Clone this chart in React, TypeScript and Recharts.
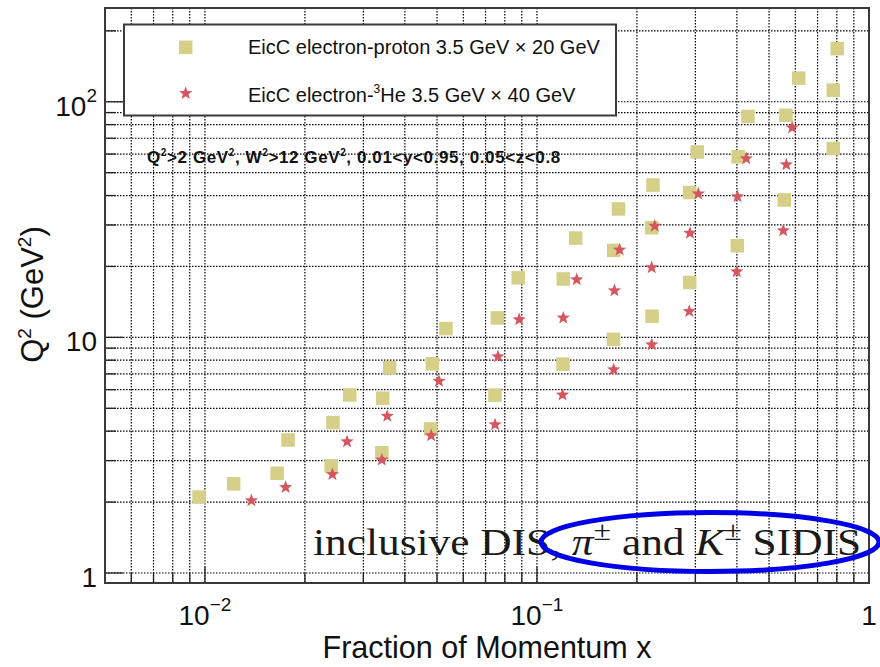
import React from "react";
import { ScatterChart, Scatter, XAxis, YAxis, CartesianGrid } from "recharts";

// x (momentum fraction) and Q^2 (GeV^2) for each kinematic bin
const EP_X = [
  0.0096, 0.0122, 0.0165, 0.0178, 0.024, 0.0243, 0.0273, 0.0341, 0.0343, 0.036,
  0.0478, 0.0484, 0.0532, 0.0747, 0.076, 0.0878, 0.1198, 0.12, 0.1308, 0.17,
  0.1703, 0.176, 0.2221, 0.2216, 0.2236, 0.2884, 0.2884, 0.304, 0.4012, 0.4036,
  0.432, 0.5557, 0.5623, 0.6141, 0.7805, 0.7805, 0.8025,
];
const EP_Q2 = [
  2.1, 2.39, 2.65, 3.67, 2.85, 4.35, 5.7, 3.24, 5.52, 7.44,
  4.09, 7.72, 10.9, 5.69, 12.1, 17.9, 7.7, 17.7, 26.4, 9.81,
  23.4, 35.1, 12.3, 29.2, 44.3, 17.1, 41.2, 61.2, 24.5, 58.4,
  86.6, 38.3, 87.6, 126, 63.3, 112, 168,
];
const HE_X = [
  0.0138, 0.0175, 0.0242, 0.0268, 0.0341, 0.0354, 0.048, 0.0507, 0.0748, 0.0763,
  0.0884, 0.1194, 0.12, 0.1317, 0.1702, 0.1711, 0.1774, 0.2216, 0.2216, 0.2263,
  0.2876, 0.289, 0.3061, 0.3996, 0.4018, 0.4269, 0.5519, 0.5636, 0.587,
];
const HE_Q2 = [
  2.03, 2.31, 2.62, 3.61, 3.02, 4.63, 3.83, 6.52, 4.26, 8.29,
  11.9, 5.7, 12.1, 17.6, 7.3, 15.8, 23.5, 9.32, 19.8, 29.7,
  12.9, 27.7, 40.7, 19.0, 39.6, 57.4, 28.4, 54.1, 77.6,
];

const X_TICKS = [
  0.006, 0.007, 0.008, 0.009, 0.01, 0.02, 0.03, 0.04, 0.05, 0.06, 0.07, 0.08, 0.09,
  0.1, 0.2, 0.3, 0.4, 0.5, 0.6, 0.7, 0.8, 0.9, 1,
];
const Y_TICKS = [
  1, 2, 3, 4, 5, 6, 7, 8, 9, 10, 20, 30, 40, 50, 60, 70, 80, 90, 100, 200,
];
const X_LABELS = [
  { value: 0.01, base: "10", exp: "\u22122" },
  { value: 0.1, base: "10", exp: "\u22121" },
  { value: 1, base: "1", exp: "" },
];
const Y_LABELS = [
  { value: 1, base: "1", exp: "" },
  { value: 10, base: "10", exp: "" },
  { value: 100, base: "10", exp: "2" },
];

const EP_NAME = "EicC electron-proton 3.5 GeV \u00d7 20 GeV";
const HE_NAME_PRE = "EicC electron-";
const HE_NAME_POST = "He 3.5 GeV \u00d7 40 GeV";

const epData = EP_X.map((x, i) => ({ x, y: EP_Q2[i] }));
const heData = HE_X.map((x, i) => ({ x, y: HE_Q2[i] }));

const W = 880;
const H = 667;
const PLOT_LEFT = 105;
const PLOT_RIGHT = 869;
const PLOT_TOP = 8;
const PLOT_BOTTOM = 583;
const YAXIS_W = 60;
const XAXIS_H = 50;

const SANS = "'Liberation Sans', Arial, Helvetica, sans-serif";
const SQUARE_COLOR = "#d5cf88";
const STAR_COLOR = "#d6565f";
const FRAME = "#3a3a3a";

const starPoints = (cx: number, cy: number, ro: number, ri: number) => {
  const pts: string[] = [];
  for (let k = 0; k < 10; k++) {
    const r = k % 2 === 0 ? ro : ri;
    const a = -Math.PI / 2 + (k * Math.PI) / 5;
    pts.push(`${cx + r * Math.cos(a)},${cy + r * Math.sin(a)}`);
  }
  return pts.join(" ");
};

const SquareMark = (props: any) => {
  const { cx, cy } = props;
  if (cx == null || cy == null) return null;
  const s = 13.5;
  return <rect x={cx - s / 2} y={cy - s / 2} width={s} height={s} fill={SQUARE_COLOR} />;
};

const StarMark = (props: any) => {
  const { cx, cy } = props;
  if (cx == null || cy == null) return null;
  return <polygon points={starPoints(cx, cy, 7, 2.9)} fill={STAR_COLOR} />;
};

const near = (a: number, b: number) => Math.abs(a - b) < 1e-9;

const XTick = (props: any) => {
  const { x, payload } = props;
  const lab = X_LABELS.find((l) => near(l.value, payload.value));
  const len = lab ? 16 : 10;
  return (
    <g>
      <line x1={x} x2={x} y1={PLOT_BOTTOM} y2={PLOT_BOTTOM - len} stroke="#222" strokeWidth={1.3} />
      {lab && (
        <text x={x} y={PLOT_BOTTOM + 42} textAnchor="middle" fontFamily={SANS} fontSize={28} fill="#111">
          {lab.base}
          {lab.exp && (
            <tspan dy={-14} fontSize={19}>
              {lab.exp}
            </tspan>
          )}
        </text>
      )}
    </g>
  );
};

const YTick = (props: any) => {
  const { y, payload } = props;
  const lab = Y_LABELS.find((l) => near(l.value, payload.value));
  const len = lab ? 18 : 11;
  return (
    <g>
      <line x1={PLOT_LEFT} x2={PLOT_LEFT + len} y1={y} y2={y} stroke="#222" strokeWidth={1.3} />
      {lab && (
        <text x={97} y={y + 14} textAnchor="end" fontFamily={SANS} fontSize={28} fill="#111">
          {lab.base}
          {lab.exp && (
            <tspan dy={-14} fontSize={19}>
              {lab.exp}
            </tspan>
          )}
        </text>
      )}
    </g>
  );
};

function Overlay() {
  return (
    <svg
      width={W}
      height={H}
      style={{ position: "absolute", left: 0, top: 0, pointerEvents: "none" }}
    >
      {/* frame */}
      <rect
        x={PLOT_LEFT}
        y={PLOT_TOP}
        width={PLOT_RIGHT - PLOT_LEFT}
        height={PLOT_BOTTOM - PLOT_TOP}
        fill="none"
        stroke={FRAME}
        strokeWidth={2}
      />

      {/* legend */}
      <rect x={124} y={24.5} width={492} height={91} fill="#fff" stroke={FRAME} strokeWidth={2} />
      <rect x={185.7 - 6.75} y={47.3 - 6.75} width={13.5} height={13.5} fill={SQUARE_COLOR} />
      <polygon points={starPoints(185.7, 93.3, 7, 2.9)} fill={STAR_COLOR} />
      <text x={248} y={54} fontFamily={SANS} fontSize={20} fill="#111">
        {EP_NAME}
      </text>
      <text x={248} y={102} fontFamily={SANS} fontSize={20} fill="#111">
        {HE_NAME_PRE}
        <tspan dy={-9} fontSize={12}>
          3
        </tspan>
        <tspan dy={9}>{HE_NAME_POST}</tspan>
      </text>

      {/* kinematic cuts */}
      <text x={147} y={162.5} fontFamily={SANS} fontSize={17} fontWeight="bold" fill="#111" letterSpacing={0.6}>
        Q<tspan dy={-7} fontSize={10}>2</tspan>
        <tspan dy={7}>{">2 GeV"}</tspan>
        <tspan dy={-7} fontSize={10}>2</tspan>
        <tspan dy={7}>{", W"}</tspan>
        <tspan dy={-7} fontSize={10}>2</tspan>
        <tspan dy={7}>{">12 GeV"}</tspan>
        <tspan dy={-7} fontSize={10}>2</tspan>
        <tspan dy={7}>{", 0.01<y<0.95, 0.05<z<0.8"}</tspan>
      </text>

      {/* process label */}
      <text
        x={313}
        y={555}
        fontFamily="'Liberation Serif', 'Times New Roman', serif"
        fontSize={38}
        fill="#1a1a1a"
        textLength={548}
        lengthAdjust="spacingAndGlyphs"
      >
        {"inclusive DIS, "}
        <tspan fontStyle="italic">{"\u03c0"}</tspan>
        <tspan dy={-15} fontSize={28}>
          {"\u00b1"}
        </tspan>
        <tspan dy={15}>{" and "}</tspan>
        <tspan fontStyle="italic">K</tspan>
        <tspan dy={-15} fontSize={28}>
          {"\u00b1"}
        </tspan>
        <tspan dy={15}>{" SIDIS"}</tspan>
      </text>
      <ellipse cx={710} cy={542} rx={169} ry={29.5} fill="none" stroke="#0000e6" strokeWidth={5} />

      {/* axis titles */}
      <text x={487} y={658} textAnchor="middle" fontFamily={SANS} fontSize={30.5} fill="#111">
        Fraction of Momentum x
      </text>
      <g transform="translate(43,294.5) rotate(-90)">
        <text x={0} y={0} textAnchor="middle" fontFamily={SANS} fontSize={31} fill="#111">
          Q<tspan dy={-12} fontSize={19}>2</tspan>
          <tspan dy={12}>{" (GeV"}</tspan>
          <tspan dy={-12} fontSize={19}>2</tspan>
          <tspan dy={12}>)</tspan>
        </text>
      </g>
    </svg>
  );
}

export default function App() {
  return (
    <div style={{ position: "absolute", left: 0, top: 0, width: W, height: H, background: "#fff" }}>
      <ScatterChart
        width={W}
        height={H}
        margin={{
          top: PLOT_TOP,
          right: W - PLOT_RIGHT,
          left: PLOT_LEFT - YAXIS_W,
          bottom: H - PLOT_BOTTOM - XAXIS_H,
        }}
      >
        <CartesianGrid stroke="#000" strokeDasharray="1.5 1.5" strokeWidth={1.2} />
        <XAxis
          dataKey="x"
          type="number"
          scale="log"
          domain={[0.005, 1]}
          allowDataOverflow
          ticks={X_TICKS}
          interval={0}
          tick={<XTick />}
          tickLine={false}
          axisLine={false}
          height={XAXIS_H}
        />
        <YAxis
          dataKey="y"
          type="number"
          scale="log"
          domain={[0.907, 250]}
          allowDataOverflow
          ticks={Y_TICKS}
          interval={0}
          tick={<YTick />}
          tickLine={false}
          axisLine={false}
          width={YAXIS_W}
        />
        <Scatter data={epData} shape={<SquareMark />} isAnimationActive={false} />
        <Scatter data={heData} shape={<StarMark />} isAnimationActive={false} />
      </ScatterChart>
      <Overlay />
    </div>
  );
}
